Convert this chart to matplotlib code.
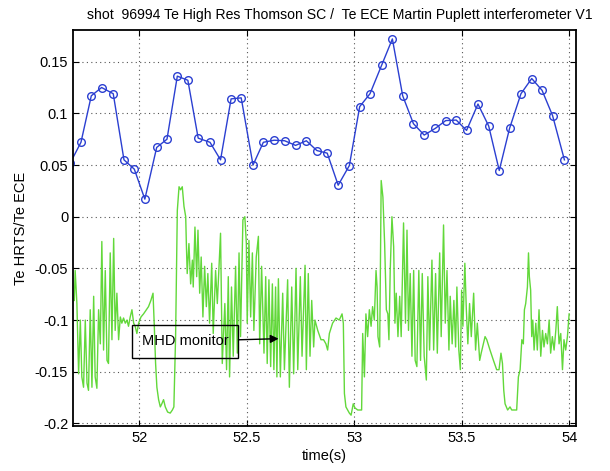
import numpy as np
import matplotlib
matplotlib.use("Agg")
import matplotlib.pyplot as plt

plt.rcParams['font.family'] = ['Liberation Sans', 'DejaVu Sans']

# Te HRTS / Te ECE ratio (blue, circles)
hrts_t = [51.679, 51.729, 51.777, 51.825, 51.879, 51.929, 51.977, 52.026, 52.081,
          52.129, 52.177, 52.226, 52.274, 52.329, 52.378, 52.427, 52.474, 52.529,
          52.577, 52.627, 52.676, 52.727, 52.777, 52.826, 52.874, 52.925, 52.977,
          53.025, 53.073, 53.127, 53.177, 53.225, 53.275, 53.325, 53.377, 53.425,
          53.474, 53.522, 53.575, 53.625, 53.674, 53.722, 53.775, 53.825, 53.873,
          53.922, 53.977]
hrts_ratio = [0.052, 0.072, 0.117, 0.125, 0.119, 0.055, 0.046, 0.017, 0.067,
              0.075, 0.136, 0.132, 0.076, 0.072, 0.055, 0.114, 0.115, 0.050,
              0.072, 0.074, 0.0735, 0.069, 0.0735, 0.064, 0.0615, 0.0305, 0.0495,
              0.1065, 0.119, 0.1465, 0.172, 0.117, 0.090, 0.079, 0.0855, 0.093,
              0.0935, 0.0835, 0.109, 0.0877, 0.0447, 0.0855, 0.119, 0.1337, 0.1223,
              0.0978, 0.055]

# MHD monitor signal (green)
mhd_t = [51.698, 51.702, 51.710, 51.718, 51.726, 51.733, 51.741, 51.749, 51.757, 51.764,
         51.772, 51.780, 51.788, 51.795, 51.803, 51.811, 51.819, 51.826, 51.834, 51.842,
         51.850, 51.857, 51.865, 51.873, 51.881, 51.888, 51.896, 51.904, 51.912, 51.919,
         51.927, 51.935, 51.943, 51.950, 51.958, 51.966, 51.974, 51.981, 51.989, 51.997,
         52.008, 52.020, 52.033, 52.043, 52.054, 52.064, 52.070, 52.076, 52.082, 52.090,
         52.098, 52.105, 52.113, 52.121, 52.132, 52.144, 52.154, 52.161, 52.169, 52.177,
         52.185, 52.192, 52.200, 52.208, 52.216, 52.219, 52.223, 52.231, 52.239, 52.247,
         52.251, 52.259, 52.267, 52.273, 52.281, 52.288, 52.296, 52.304, 52.312, 52.319,
         52.327, 52.337, 52.344, 52.355, 52.363, 52.378, 52.386, 52.398, 52.406, 52.414,
         52.420, 52.429, 52.437, 52.448, 52.456, 52.464, 52.471, 52.482, 52.491, 52.498,
         52.502, 52.510, 52.518, 52.526, 52.533, 52.544, 52.554, 52.560, 52.569, 52.580,
         52.588, 52.595, 52.603, 52.611, 52.619, 52.626, 52.634, 52.640, 52.647, 52.656,
         52.667, 52.675, 52.690, 52.698, 52.709, 52.718, 52.729, 52.737, 52.749, 52.757,
         52.771, 52.777, 52.786, 52.794, 52.802, 52.811, 52.817, 52.830, 52.845, 52.857,
         52.868, 52.876, 52.884, 52.899, 52.915, 52.930, 52.943, 52.949, 52.954, 52.961,
         52.977, 52.985, 52.995, 53.003, 53.016, 53.028, 53.034, 53.039, 53.047, 53.054,
         53.062, 53.070, 53.078, 53.085, 53.093, 53.101, 53.106, 53.110, 53.118, 53.125,
         53.133, 53.141, 53.149, 53.156, 53.161, 53.167, 53.175, 53.183, 53.189, 53.195,
         53.203, 53.211, 53.218, 53.229, 53.238, 53.245, 53.252, 53.260, 53.268, 53.276,
         53.283, 53.291, 53.300, 53.308, 53.316, 53.325, 53.335, 53.342, 53.350, 53.361,
         53.369, 53.378, 53.386, 53.397, 53.404, 53.415, 53.423, 53.431, 53.440, 53.446,
         53.455, 53.463, 53.471, 53.477, 53.486, 53.493, 53.499, 53.505, 53.514, 53.521,
         53.528, 53.536, 53.544, 53.555, 53.564, 53.572, 53.583, 53.590, 53.608, 53.616,
         53.631, 53.647, 53.662, 53.673, 53.682, 53.689, 53.695, 53.701, 53.713, 53.724,
         53.732, 53.748, 53.755, 53.763, 53.771, 53.779, 53.786, 53.791, 53.797, 53.805,
         53.810, 53.814, 53.820, 53.825, 53.830, 53.836, 53.844, 53.851, 53.859, 53.867,
         53.875, 53.882, 53.890, 53.898, 53.906, 53.913, 53.921, 53.929, 53.937, 53.944,
         53.952, 53.960, 53.968, 53.975, 53.983, 53.991, 53.999]
mhd_val = [-0.081, -0.052, -0.084, -0.152, -0.100, -0.155, -0.165, -0.100, -0.161, -0.168,
           -0.090, -0.165, -0.077, -0.155, -0.166, -0.090, -0.123, -0.024, -0.129, -0.052,
           -0.139, -0.142, -0.035, -0.119, -0.021, -0.110, -0.074, -0.119, -0.097, -0.103,
           -0.098, -0.103, -0.100, -0.106, -0.097, -0.090, -0.103, -0.106, -0.113, -0.103,
           -0.097, -0.094, -0.090, -0.087, -0.081, -0.074, -0.106, -0.142, -0.165, -0.177,
           -0.184, -0.181, -0.177, -0.184, -0.189, -0.190, -0.187, -0.184, -0.116, 0.006,
           0.029, 0.026, 0.029, 0.010, 0.000, -0.026, -0.055, -0.026, -0.065, -0.042,
           -0.068, -0.010, -0.058, -0.013, -0.074, -0.039, -0.097, -0.048, -0.087, -0.055,
           -0.103, -0.045, -0.113, -0.052, -0.084, -0.016, -0.142, -0.084, -0.148, -0.058,
           -0.155, -0.068, -0.135, -0.048, -0.132, -0.035, -0.116, -0.003, 0.000, -0.026,
           -0.103, -0.023, -0.097, -0.035, -0.110, -0.039, -0.019, -0.123, -0.048, -0.132,
           -0.058, -0.142, -0.061, -0.145, -0.065, -0.148, -0.068, -0.155, -0.060, -0.155,
           -0.074, -0.148, -0.061, -0.165, -0.068, -0.152, -0.050, -0.148, -0.058, -0.135,
           -0.047, -0.148, -0.055, -0.135, -0.081, -0.126, -0.100, -0.110, -0.119, -0.119,
           -0.123, -0.129, -0.113, -0.103, -0.098, -0.100, -0.094, -0.103, -0.171, -0.184,
           -0.190, -0.192, -0.181, -0.185, -0.187, -0.187, -0.187, -0.113, -0.155, -0.094,
           -0.116, -0.090, -0.106, -0.087, -0.100, -0.052, -0.068, -0.116, -0.126, 0.035,
           0.019, -0.026, -0.090, -0.094, -0.119, -0.052, 0.000, -0.029, -0.103, -0.074,
           -0.116, -0.077, -0.116, -0.006, -0.103, -0.013, -0.110, -0.055, -0.135, -0.052,
           -0.139, -0.145, -0.052, -0.139, -0.055, -0.135, -0.158, -0.058, -0.129, -0.042,
           -0.129, -0.055, -0.132, -0.035, -0.116, -0.008, -0.103, -0.052, -0.129, -0.077,
           -0.123, -0.081, -0.126, -0.068, -0.129, -0.148, -0.071, -0.106, -0.045, -0.090,
           -0.123, -0.084, -0.116, -0.074, -0.129, -0.103, -0.139, -0.132, -0.116, -0.119,
           -0.129, -0.139, -0.148, -0.148, -0.132, -0.142, -0.168, -0.181, -0.187, -0.184,
           -0.187, -0.187, -0.187, -0.155, -0.148, -0.119, -0.123, -0.090, -0.084, -0.068,
           -0.035, -0.058, -0.071, -0.116, -0.100, -0.129, -0.103, -0.129, -0.090, -0.135,
           -0.110, -0.126, -0.113, -0.123, -0.100, -0.132, -0.116, -0.129, -0.110, -0.087,
           -0.123, -0.113, -0.148, -0.119, -0.129, -0.116, -0.094]

xticks = [52, 52.5, 53, 53.5, 54]
xtick_labels = ['52', '52.5', '53', '53.5', '54']
yticks = [-0.2, -0.15, -0.1, -0.05, 0, 0.05, 0.1, 0.15]
ytick_labels = ['-0.2', '-0.15', '-0.1', '-0.05', '0', '0.05', '0.1', '0.15']

fig = plt.figure(figsize=(6.1, 4.71), dpi=100)
ax = fig.add_axes([0.1197, 0.0955, 0.8246, 0.8405])

ax.plot(mhd_t, mhd_val, color='#62d83a', lw=1.0)
ax.plot(hrts_t, hrts_ratio, color='#2b3fd1', lw=1.0, marker='o', ms=5.5,
        mfc='none', mec='#2b3fd1', mew=1.0)

ax.set_xlim(51.692, 54.031)
ax.set_ylim(-0.2025, 0.1805)
ax.set_xticks(xticks)
ax.set_xticklabels(xtick_labels)
ax.set_yticks(yticks)
ax.set_yticklabels(ytick_labels)
ax.tick_params(direction='in', top=True, right=True, length=4, width=0.8,
               labelsize=10.5, colors='black')
ax.grid(True, linestyle=(0, (1, 3)), color='#555555', lw=0.8)
for s in ax.spines.values():
    s.set_linewidth(1.3)

ax.set_xlabel('time(s)', fontsize=10.5, labelpad=3)
ax.set_ylabel('Te HRTS/Te ECE', fontsize=10.5, labelpad=5)
fig.text(87 / 610, 1 - 15 / 471,
         'shot  96994 Te High Res Thomson SC /  Te ECE Martin Puplett interferometer V1',
         ha='left', va='center', fontsize=10.1)

ax.annotate('MHD monitor', xy=(52.648, -0.118), xytext=(52.012, -0.1205),
            ha='left', va='center', fontsize=10.5,
            bbox=dict(boxstyle='square,pad=0.65', fc='none', ec='black', lw=1.0),
            arrowprops=dict(arrowstyle='-|>', color='black', lw=1.0, mutation_scale=12,
                            shrinkA=0, shrinkB=0))

fig.savefig('out.png', dpi=100)
